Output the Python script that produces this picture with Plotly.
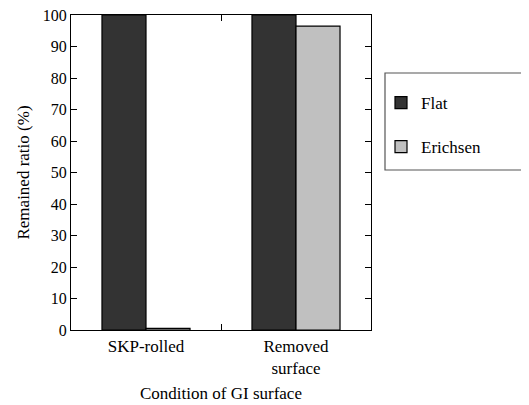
import plotly.graph_objects as go

categories = ["SKP-rolled", "Removed<br>surface"]
flat_values = [100, 100]
erichsen_values = [0.5, 96.5]
y_ticks = [0, 10, 20, 30, 40, 50, 60, 70, 80, 90, 100]

FONT = "Liberation Serif"
FS = 17
OFF = 8  # default page body margin
W, H = 529 - OFF, 405 - OFF
L, T = 71 - OFF, 15 - OFF
PW, PH = 300, 315
R, B = W - L - PW, H - T - PH

fig = go.Figure()
fig.add_trace(go.Bar(x=categories, y=flat_values, name="Flat",
                     marker=dict(color="#333333", line=dict(color="#000000", width=1.2)),
                     legendgroup="a"))
fig.add_trace(go.Bar(x=categories, y=erichsen_values, name="Erichsen",
                     marker=dict(color="#c0c0c0", line=dict(color="#000000", width=1.2)),
                     legendgroup="b"))

def px_x(p):
    return (p - OFF - L) / PW
def px_y(p):
    return (T + PH - (p - OFF)) / PH

fig.add_shape(type="rect", xref="paper", yref="paper",
              x0=px_x(385), x1=px_x(528), y0=px_y(170), y1=px_y(73),
              line=dict(color="#555555", width=1.2), fillcolor="rgba(0,0,0,0)")

fnt = dict(family=FONT, size=FS, color="#000000")
yfnt = dict(family=FONT, size=16, color="#000000")

fig.update_layout(
    width=W, height=H,
    margin=dict(l=L, r=R, t=T, b=B, autoexpand=False),
    plot_bgcolor="white", paper_bgcolor="white",
    font=fnt,
    barmode="group", bargap=0.413, bargroupgap=0,
    showlegend=True,
    legend=dict(x=px_x(381), y=px_y(85), xanchor="left", yanchor="top",
                bgcolor="rgba(0,0,0,0)", borderwidth=0,
                tracegroupgap=19, traceorder="grouped", itemwidth=30,
                font=fnt),
    xaxis=dict(showline=True, linecolor="#000000", linewidth=1.2, mirror="ticks",
               ticks="inside", tickson="boundaries", ticklen=6, tickcolor="#000000",
               tickfont=fnt, automargin=False, ticklabeloverflow="allow",
               title=dict(text="Condition of GI surface", standoff=10, font=fnt),
               showgrid=False),
    yaxis=dict(range=[0, 100], tickvals=y_ticks, showline=True, linecolor="#000000",
               linewidth=1.2, mirror="ticks", ticks="inside", ticklen=6,
               tickcolor="#000000", showgrid=False, zeroline=False,
               tickfont=yfnt, automargin=False, ticklabeloverflow="allow",
               title=dict(text="Remained ratio (%)", standoff=8, font=fnt)),
)

fig.write_html("out.html")
